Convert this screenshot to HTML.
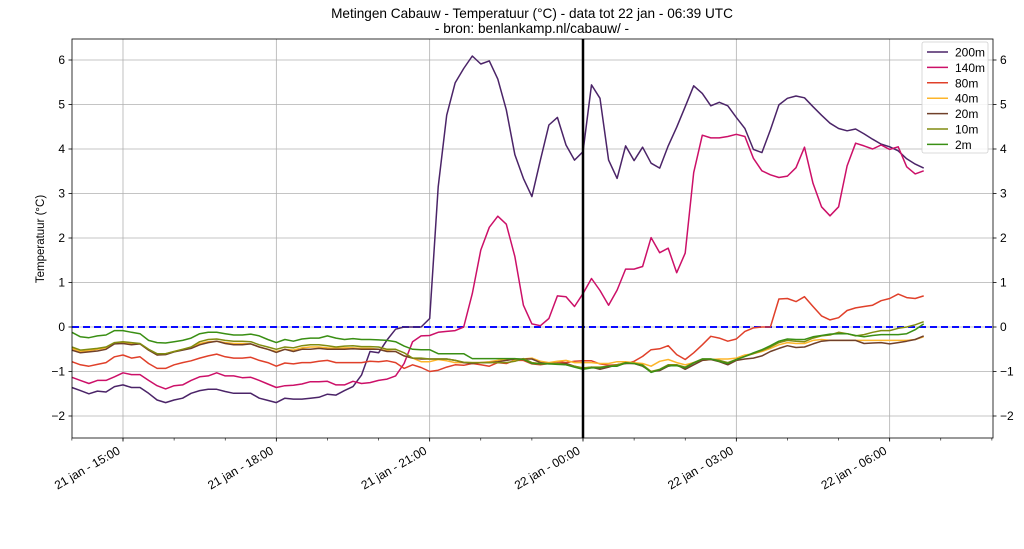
<!DOCTYPE html>
<html><head><meta charset="utf-8">
<style>
body{margin:0;background:#fff;}
svg{display:block;font-family:"Liberation Sans",sans-serif;}
</style></head>
<body>
<svg id="chart" width="1024" height="549" viewBox="0 0 1024 549" xmlns="http://www.w3.org/2000/svg">
<rect x="0" y="0" width="1024" height="549" fill="#fff"/>
<text x="532" y="18" text-anchor="middle" font-size="13.6" fill="#000">Metingen Cabauw - Temperatuur (°C) - data tot 22 jan - 06:39 UTC</text>
<text x="532" y="33" text-anchor="middle" font-size="13.6" fill="#000">- bron: benlankamp.nl/cabauw/ -</text>
<text x="0" y="0" transform="translate(44,239) rotate(-90)" text-anchor="middle" font-size="11.5" fill="#000">Temperatuur (°C)</text>
<g id="grid"></g>
<g id="series"></g>
<g id="axes"></g>
<g id="legend"></g>
</svg>
<script>
const yTicks = [-2,-1,0,1,2,3,4,5,6];
const xTickMinutes = [60,240,420,600,780,960];
const xTickLabels = ["21 jan - 15:00","21 jan - 18:00","21 jan - 21:00","22 jan - 00:00","22 jan - 03:00","22 jan - 06:00"];
const seriesNames = ["200m","140m","80m","40m","20m","10m","2m"];
const stepMinutes = 10;
const t200m = [-1.36,-1.43,-1.5,-1.44,-1.46,-1.34,-1.3,-1.36,-1.36,-1.49,-1.64,-1.7,-1.64,-1.6,-1.49,-1.43,-1.4,-1.4,-1.45,-1.49,-1.49,-1.49,-1.6,-1.65,-1.7,-1.6,-1.62,-1.62,-1.6,-1.58,-1.51,-1.53,-1.43,-1.34,-1.08,-0.55,-0.58,-0.29,-0.05,0,0,0,0.19,3.15,4.76,5.49,5.81,6.09,5.91,5.98,5.57,4.88,3.87,3.34,2.93,3.75,4.54,4.71,4.09,3.75,3.94,5.44,5.14,3.75,3.34,4.07,3.74,4.04,3.68,3.57,4.07,4.49,4.95,5.42,5.25,4.97,5.05,4.97,4.71,4.46,3.99,3.92,4.43,4.99,5.14,5.19,5.15,4.95,4.76,4.58,4.46,4.41,4.45,4.34,4.22,4.11,4.05,3.96,3.78,3.66,3.57];
const t140m = [-1.13,-1.2,-1.27,-1.2,-1.2,-1.12,-1.03,-1.07,-1.07,-1.2,-1.32,-1.39,-1.32,-1.3,-1.2,-1.12,-1.1,-1.03,-1.1,-1.1,-1.14,-1.13,-1.2,-1.28,-1.36,-1.32,-1.31,-1.28,-1.23,-1.23,-1.22,-1.3,-1.3,-1.22,-1.27,-1.25,-1.2,-1.17,-1.1,-0.82,-0.33,-0.2,-0.19,-0.12,-0.1,-0.08,0.0,0.75,1.73,2.24,2.49,2.31,1.58,0.49,0.07,0.03,0.19,0.7,0.68,0.46,0.75,1.09,0.82,0.49,0.83,1.3,1.3,1.36,2.01,1.67,1.77,1.22,1.66,3.47,4.31,4.25,4.25,4.28,4.33,4.28,3.79,3.51,3.42,3.36,3.39,3.58,4.04,3.23,2.7,2.5,2.7,3.62,4.13,4.07,4.0,4.09,3.99,4.05,3.6,3.44,3.51];
const t80m = [-0.78,-0.85,-0.88,-0.84,-0.8,-0.67,-0.63,-0.7,-0.67,-0.82,-0.93,-0.93,-0.85,-0.8,-0.76,-0.7,-0.65,-0.61,-0.67,-0.7,-0.7,-0.68,-0.75,-0.8,-0.88,-0.81,-0.83,-0.8,-0.8,-0.77,-0.75,-0.8,-0.8,-0.8,-0.8,-0.77,-0.78,-0.76,-0.8,-0.93,-0.85,-0.91,-1.0,-0.97,-0.9,-0.85,-0.86,-0.82,-0.85,-0.88,-0.8,-0.82,-0.75,-0.75,-0.83,-0.85,-0.82,-0.78,-0.8,-0.77,-0.76,-0.76,-0.83,-0.86,-0.85,-0.82,-0.77,-0.66,-0.51,-0.49,-0.42,-0.62,-0.73,-0.58,-0.4,-0.21,-0.25,-0.32,-0.27,-0.1,-0.02,0,0,0.63,0.64,0.57,0.68,0.46,0.25,0.16,0.21,0.37,0.43,0.46,0.49,0.59,0.64,0.74,0.66,0.64,0.7];
const t40m = [-0.48,-0.55,-0.53,-0.5,-0.47,-0.37,-0.35,-0.38,-0.38,-0.52,-0.63,-0.6,-0.55,-0.5,-0.46,-0.37,-0.33,-0.32,-0.35,-0.37,-0.37,-0.38,-0.45,-0.5,-0.55,-0.5,-0.52,-0.47,-0.45,-0.45,-0.47,-0.48,-0.47,-0.47,-0.48,-0.48,-0.5,-0.53,-0.55,-0.65,-0.7,-0.78,-0.78,-0.73,-0.76,-0.8,-0.8,-0.8,-0.8,-0.78,-0.75,-0.72,-0.75,-0.72,-0.7,-0.77,-0.8,-0.77,-0.75,-0.8,-0.8,-0.8,-0.82,-0.82,-0.78,-0.78,-0.8,-0.82,-0.88,-0.77,-0.73,-0.8,-0.85,-0.8,-0.75,-0.73,-0.72,-0.72,-0.7,-0.63,-0.6,-0.55,-0.48,-0.4,-0.35,-0.37,-0.37,-0.3,-0.28,-0.3,-0.3,-0.3,-0.3,-0.3,-0.3,-0.3,-0.3,-0.3,-0.3,-0.28,-0.22];
const t20m = [-0.52,-0.58,-0.56,-0.54,-0.5,-0.38,-0.37,-0.4,-0.38,-0.52,-0.63,-0.62,-0.56,-0.52,-0.48,-0.4,-0.35,-0.32,-0.37,-0.4,-0.4,-0.38,-0.45,-0.5,-0.57,-0.5,-0.55,-0.5,-0.5,-0.48,-0.5,-0.5,-0.5,-0.49,-0.5,-0.5,-0.5,-0.55,-0.55,-0.65,-0.7,-0.72,-0.72,-0.72,-0.72,-0.75,-0.8,-0.82,-0.8,-0.8,-0.78,-0.75,-0.72,-0.72,-0.72,-0.8,-0.83,-0.82,-0.82,-0.88,-0.93,-0.9,-0.95,-0.9,-0.85,-0.82,-0.82,-0.88,-1.0,-0.98,-0.88,-0.85,-0.95,-0.85,-0.75,-0.73,-0.78,-0.85,-0.75,-0.72,-0.7,-0.65,-0.55,-0.48,-0.42,-0.46,-0.45,-0.38,-0.32,-0.3,-0.3,-0.3,-0.3,-0.37,-0.36,-0.35,-0.38,-0.35,-0.32,-0.28,-0.2];
const t10m = [-0.45,-0.52,-0.5,-0.48,-0.45,-0.35,-0.33,-0.35,-0.37,-0.5,-0.6,-0.6,-0.55,-0.5,-0.45,-0.33,-0.28,-0.27,-0.3,-0.32,-0.32,-0.33,-0.4,-0.45,-0.5,-0.45,-0.47,-0.42,-0.4,-0.4,-0.42,-0.45,-0.43,-0.42,-0.44,-0.44,-0.45,-0.5,-0.5,-0.58,-0.7,-0.7,-0.72,-0.72,-0.72,-0.75,-0.79,-0.8,-0.8,-0.8,-0.8,-0.8,-0.77,-0.71,-0.8,-0.82,-0.82,-0.82,-0.85,-0.88,-0.92,-0.9,-0.9,-0.88,-0.85,-0.8,-0.82,-0.85,-1.0,-0.95,-0.85,-0.85,-0.9,-0.8,-0.72,-0.72,-0.75,-0.8,-0.73,-0.66,-0.6,-0.53,-0.45,-0.35,-0.3,-0.32,-0.33,-0.25,-0.2,-0.18,-0.12,-0.15,-0.2,-0.17,-0.12,-0.08,-0.08,-0.03,0.0,0.05,0.12];
const t2m = [-0.12,-0.22,-0.24,-0.2,-0.18,-0.08,-0.08,-0.12,-0.15,-0.3,-0.35,-0.36,-0.33,-0.3,-0.25,-0.15,-0.12,-0.12,-0.15,-0.18,-0.18,-0.16,-0.2,-0.28,-0.35,-0.28,-0.32,-0.27,-0.25,-0.25,-0.2,-0.25,-0.28,-0.26,-0.28,-0.28,-0.29,-0.3,-0.33,-0.43,-0.5,-0.51,-0.51,-0.6,-0.6,-0.6,-0.6,-0.71,-0.71,-0.71,-0.71,-0.71,-0.71,-0.73,-0.82,-0.83,-0.83,-0.84,-0.85,-0.9,-0.95,-0.92,-0.92,-0.88,-0.88,-0.81,-0.82,-0.87,-1.02,-0.96,-0.87,-0.87,-0.92,-0.81,-0.72,-0.72,-0.77,-0.82,-0.73,-0.66,-0.58,-0.51,-0.42,-0.32,-0.27,-0.28,-0.28,-0.22,-0.19,-0.16,-0.15,-0.15,-0.19,-0.22,-0.19,-0.17,-0.17,-0.17,-0.15,-0.06,0.07];

const NS = "http://www.w3.org/2000/svg";
const L = 72, R = 993, T = 39, B = 438;
function xScale(min){ return 123 + (min - 60) * (460/540); }
function yScale(v){ return 327 - v * 44.5; }
function mk(tag, attrs, parent){
  const e = document.createElementNS(NS, tag);
  for (const k in attrs) e.setAttribute(k, attrs[k]);
  parent.appendChild(e);
  return e;
}
const grid = document.getElementById('grid');
const axes = document.getElementById('axes');
const seriesG = document.getElementById('series');
const legend = document.getElementById('legend');

yTicks.forEach(v => {
  const y = yScale(v);
  const g = mk('line', {x1:L, x2:R, y1:y, y2:y, stroke:'#b0b0b0', 'stroke-width':0.8}, grid);
  
  
  const t1 = mk('line', {x1:L-3.5, x2:L, y1:y, y2:y, stroke:'#000', 'stroke-width':0.8}, axes);
  
  
  const t2 = mk('line', {x1:R, x2:R+3.5, y1:y, y2:y, stroke:'#000', 'stroke-width':0.8}, axes);
  
  
  const l1 = mk('text', {x:L-7, y:y+4, 'text-anchor':'end', 'font-size':12, fill:'#000'}, axes);
  l1.textContent = String(v).replace('-', '\u2212');
  
  
  const l2 = mk('text', {x:R+7, y:y+4, 'text-anchor':'start', 'font-size':12, fill:'#000'}, axes);
  l2.textContent = String(v).replace('-', '\u2212');
  
  
});
for (let m = 0; xScale(m) <= R; m += 60) {
  const x = xScale(m);
  const mt = mk('line', {x1:x, x2:x, y1:B, y2:B+2.5, stroke:'#000', 'stroke-width':0.6}, axes);
  
  
}
xTickMinutes.forEach((m, i) => {
  const x = xScale(m);
  const g = mk('line', {x1:x, x2:x, y1:T, y2:B, stroke:'#b0b0b0', 'stroke-width':0.8}, grid);
  
  
  const tk = mk('line', {x1:x, x2:x, y1:B, y2:B+3.5, stroke:'#000', 'stroke-width':0.8}, axes);
  
  
  const lb = mk('text', {x:0, y:0, transform:'translate(' + (x-2) + ',' + (B+15) + ') rotate(-30)', 'text-anchor':'end', 'font-size':12, fill:'#000'}, axes);
  lb.textContent = xTickLabels[i];
  
  
});
const zl = mk('line', {x1:L, x2:R, y1:yScale(0), y2:yScale(0), stroke:'#0a0aff', 'stroke-width':2, 'stroke-dasharray':'7,4'}, grid);



const colors = ['#4b2468','#cc1068','#e0402a','#fdb52a','#70402a','#808c10','#3a8f14'];
const allSeries = [t200m, t140m, t80m, t40m, t20m, t10m, t2m];
allSeries.forEach((arr, si) => {
  const pts = arr.map((v, i) => xScale(i * stepMinutes).toFixed(1) + ',' + yScale(v).toFixed(1)).join(' ');
  const pl = mk('polyline', {points:pts, fill:'none', stroke:colors[si], 'stroke-width':1.5, 'stroke-linejoin':'round'}, seriesG);
  
  
});
const ml = mk('line', {x1:xScale(600), x2:xScale(600), y1:T, y2:B, stroke:'#000', 'stroke-width':2.5}, seriesG);



const frame = mk('rect', {x:L, y:T, width:R-L, height:B-T, fill:'none', stroke:'#000', 'stroke-width':0.8}, axes);



const lbox = mk('rect', {x:922, y:42, width:66, height:111, rx:2, fill:'#fff', 'fill-opacity':0.85, stroke:'#d0d0d0', 'stroke-width':0.8}, legend);


seriesNames.forEach((n, i) => {
  const y = 52 + i * 15.4;
  const ll = mk('line', {x1:927, x2:948, y1:y, y2:y, stroke:colors[i], 'stroke-width':1.5}, legend);
  
  
  const lt = mk('text', {x:955, y:y+4.5, 'font-size':12, fill:'#000'}, legend);
  lt.textContent = n;
  
  
});
</script>
</body></html>
